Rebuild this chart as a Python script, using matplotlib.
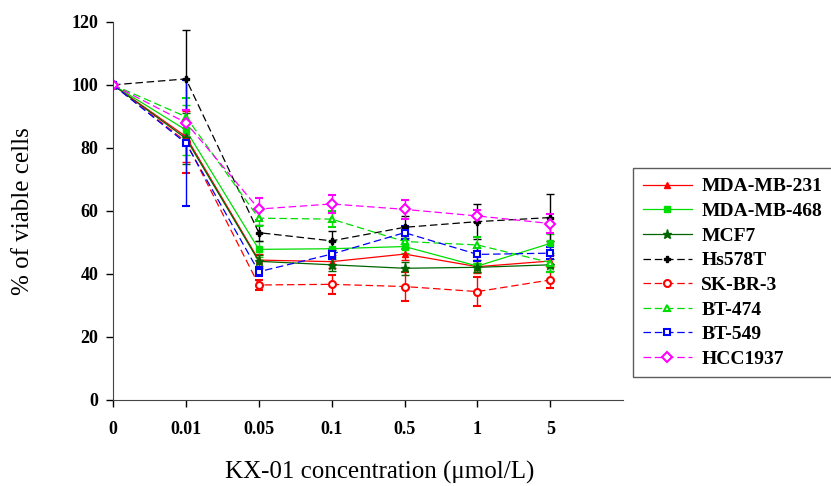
import matplotlib
matplotlib.use('Agg')
import matplotlib.pyplot as plt
from matplotlib.lines import Line2D
import numpy as np

plt.rcParams['font.family'] = ['Liberation Serif', 'DejaVu Serif']

conc_labels = ['0', '0.01', '0.05', '0.1', '0.5', '1', '5']

mda231 = [100, 83.6, 44.4, 43.9, 46.3, 42.3, 44.1]
mda468 = [100, 85.7, 47.8, 48.0, 48.7, 42.5, 49.7]
mcf7 = [100, 83.0, 44.0, 42.9, 41.8, 42.1, 42.9]
hs578t = [100, 101.9, 53.1, 50.5, 54.8, 56.6, 57.9]
skbr3 = [100, 82.0, 36.5, 36.7, 36.0, 34.4, 38.1]
bt474 = [100, 89.9, 57.7, 57.4, 50.3, 49.2, 43.6]
bt549 = [100, 81.5, 40.7, 46.3, 53.1, 46.2, 46.6]
hcc1937 = [100, 88.0, 60.6, 62.2, 60.5, 58.4, 56.0]

err_mda231 = [0, 8, 2, 2, 2, 2, 2]
err_mda468 = [0, 8, 2.5, 2.5, 2, 2, 3]
err_mcf7 = [0, 8, 2, 2, 2, 1.5, 2]
err_hs578t = [0, 15.5, 2.5, 3, 3.5, 5.5, 7.5]
err_skbr3 = [0, 10, 1.5, 3, 4.5, 4.5, 2.5]
err_bt474 = [0, 6, 2.5, 2.5, 2.5, 2.5, 3]
err_bt549 = [0, 20, 1.5, 1.5, 2, 2, 2]
err_hcc1937 = [0, 4, 3.5, 3, 3, 2, 3]

series = [
    ('MDA-MB-231', mda231, err_mda231, '#ff0000', '-', '^', True),
    ('MDA-MB-468', mda468, err_mda468, '#00dd00', '-', 's', True),
    ('MCF7', mcf7, err_mcf7, '#006400', '-', '*', True),
    ('Hs578T', hs578t, err_hs578t, '#000000', '--', 'P', True),
    ('SK-BR-3', skbr3, err_skbr3, '#ff0000', '--', 'o', False),
    ('BT-474', bt474, err_bt474, '#00dd00', '--', '^', False),
    ('BT-549', bt549, err_bt549, '#0000ff', '--', 's', False),
    ('HCC1937', hcc1937, err_hcc1937, '#ff00ff', '--', 'D', False),
]

fig = plt.figure(figsize=(8.31, 4.86), dpi=100)
ax = fig.add_axes([0.136, 0.177, 0.614, 0.778])

x = np.arange(len(conc_labels))
handles = []
for name, vals, errs, col, ls, mk, filled in series:
    style = dict(color=col, linestyle=ls, linewidth=0.9, marker=mk,
                 markersize=5 if mk != '*' else 6.5,
                 markerfacecolor=col if filled else 'white',
                 markeredgecolor=col, markeredgewidth=1.5 if not filled else 1)
    if ls == '--':
        style['dashes'] = (6, 3)
    ax.errorbar(x, vals, yerr=errs, elinewidth=1, capsize=3, capthick=1, **style)
    handles.append(Line2D([], [], label=name, **style))

ax.set_xlim(0, 7)
ax.set_ylim(0, 120)
ax.set_xticks(x)
ax.set_xticklabels(conc_labels, fontweight='bold', fontsize=13)
ax.set_yticks(range(0, 121, 20))
ax.set_yticklabels([str(v) for v in range(0, 121, 20)], fontweight='bold', fontsize=13)
ax.tick_params(direction='out', length=5, width=1, pad=10, axis='x')
ax.tick_params(direction='out', length=5, width=1, pad=5.5, axis='y')
for s in ['top', 'right']:
    ax.spines[s].set_visible(False)
for s in ['left', 'bottom']:
    ax.spines[s].set_color('#444444')

ax.set_ylabel('% of viable cells', fontsize=18, va='center')
ax.yaxis.set_label_coords(-0.176, 0.5)
ax.set_xlabel('KX-01 concentration (μmol/L)', fontsize=18, va='center')
ax.xaxis.set_label_coords(0.523, -0.193)

leg = fig.legend(handles=handles, loc='upper left', bbox_to_anchor=(0.762, 0.654),
                 prop={'weight': 'bold', 'size': 14}, frameon=True, fancybox=False,
                 edgecolor='#333333', handlelength=2.5, labelspacing=0.36,
                 borderpad=0.5, handletextpad=0.5, borderaxespad=0)
leg.get_frame().set_linewidth(1)

fig.savefig('out.png', dpi=100)
